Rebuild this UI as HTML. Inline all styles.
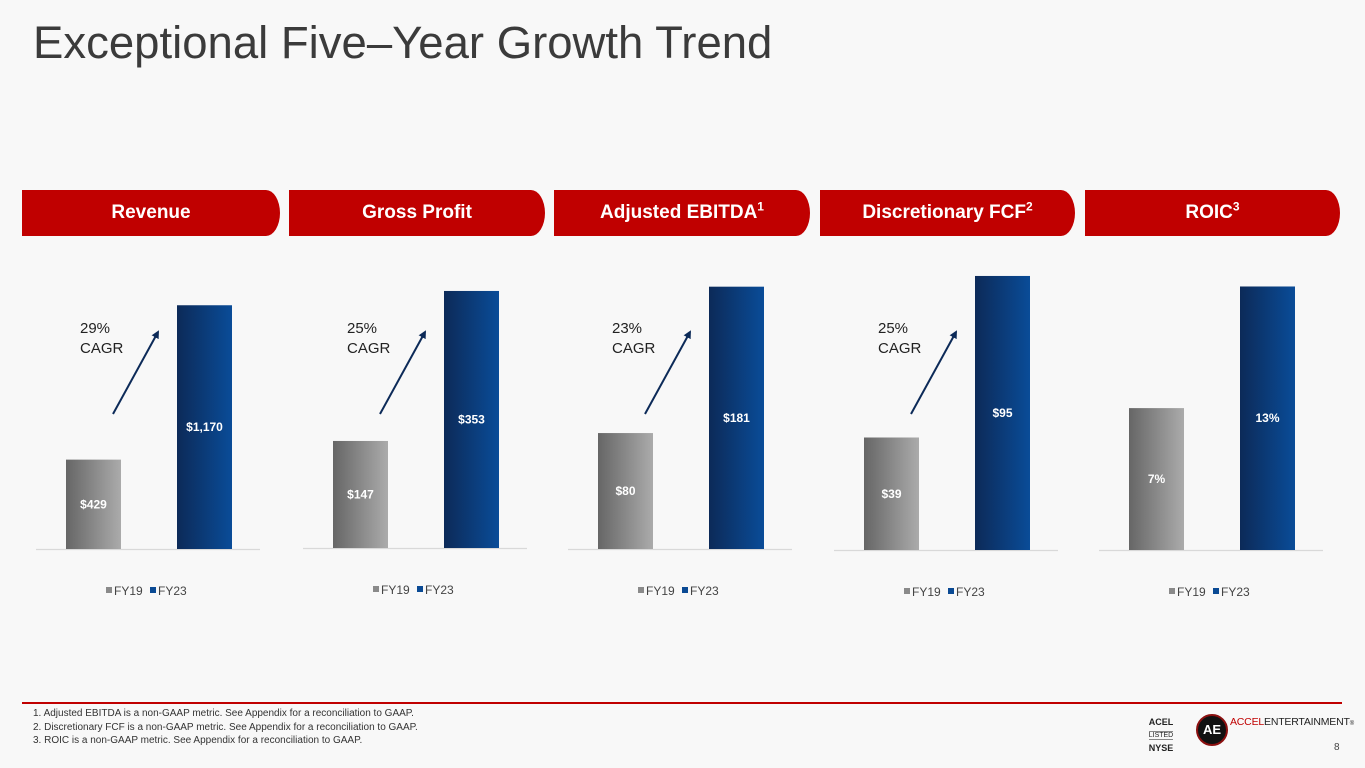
<!DOCTYPE html>
<html><head><meta charset="utf-8"><style>
html,body{margin:0;padding:0}
body{width:1365px;height:768px;position:relative;overflow:hidden;background:#f8f8f8;font-family:"Liberation Sans",Arial,sans-serif}
.title{position:absolute;left:33px;top:17px;font-size:45.5px;color:#3b3b3b;white-space:nowrap}
.hdr{position:absolute;top:190px;height:46px;background:#c00000;color:#fff;font-weight:bold;font-size:19px;line-height:46px;text-align:center;border-radius:0 14px 14px 0/0 23px 23px 0}
.hdr sup{font-size:12px;line-height:0}
.fn{position:absolute;left:33px;top:707px;font-size:10px;line-height:13.5px;color:#333}
svg{position:absolute;left:0;top:0}
</style></head><body>
<div class="title">Exceptional Five–Year Growth Trend</div>
<div class="hdr" style="left:22px;width:258px">Revenue</div>
<div class="hdr" style="left:289px;width:256px">Gross Profit</div>
<div class="hdr" style="left:554px;width:256px">Adjusted EBITDA<sup>1</sup></div>
<div class="hdr" style="left:820px;width:255px">Discretionary FCF<sup>2</sup></div>
<div class="hdr" style="left:1085px;width:255px">ROIC<sup>3</sup></div>
<svg id="chart" width="1365" height="768">
<defs>
<linearGradient id="gg" x1="0" x2="1"><stop offset="0" stop-color="#666"/><stop offset="1" stop-color="#ababab"/></linearGradient>
<linearGradient id="gb" x1="0" x2="1"><stop offset="0" stop-color="#0c2a58"/><stop offset="1" stop-color="#0a4c98"/></linearGradient>
<marker id="ah" markerWidth="8" markerHeight="8" refX="6" refY="4" orient="auto" markerUnits="userSpaceOnUse"><path d="M0,0 L8,4 L0,8 z" fill="#0c2a58"/></marker>
</defs>
</svg>
<div class="fn">1. Adjusted EBITDA is a non-GAAP metric. See Appendix for a reconciliation to GAAP.<br>2. Discretionary FCF is a non-GAAP metric. See Appendix for a reconciliation to GAAP.<br>3. ROIC is a non-GAAP metric. See Appendix for a reconciliation to GAAP.</div>
<div style="position:absolute;left:22px;top:702px;width:1320px;height:1.5px;background:#c00000"></div>
<div style="position:absolute;left:1146px;top:716px;width:30px;text-align:center;font-size:9px;line-height:12px;color:#222"><b>ACEL</b><br><span style="font-size:7px;border-top:1px solid #888;border-bottom:1px solid #888">LISTED</span><br><b>NYSE</b></div>
<div style="position:absolute;left:1196px;top:714px;width:28px;height:28px;border-radius:50%;background:#111;border:2px solid #8b1010;color:#fff;font-weight:bold;font-size:13px;line-height:28px;text-align:center">AE</div>
<div style="position:absolute;left:1230px;top:716px;font-size:10.5px;color:#222;letter-spacing:-0.2px"><span style="color:#c00000">ACCEL</span>ENTERTAINMENT<span style="font-size:6px">®</span></div>
<div style="position:absolute;left:1334px;top:742px;font-size:10px;color:#444">8</div>
<script>
const categories=["FY19","FY23"];
const panelNames=["revenue","gross-profit","adjusted-ebitda","discretionary-fcf","roic"];
const fy19Values=[429,147,80,39,7];
const fy23Values=[1170,353,181,95,13];
const valueLabels19=["$429","$147","$80","$39","7%"];
const valueLabels23=["$1,170","$353","$181","$95","13%"];
const axisMax=[1440,412,207,104,14.8];
const cagrLabels=["29%","25%","23%","25%",null];
const NS="http://www.w3.org/2000/svg";
const svg=document.getElementById('chart');
const panelX=[22,289,554,820,1085];
const baseY=[549,548,549,550,550];
const plotH=300;
function mk(tag,attrs){const e=document.createElementNS(NS,tag);for(const k in attrs)e.setAttribute(k,attrs[k]);svg.appendChild(e);return e;}
function yScale(p,v){return baseY[p]-v/axisMax[p]*plotH;}
panelNames.forEach((n,p)=>{
  const x0=panelX[p];
  const ax=mk('line',{x1:x0+14,x2:x0+238,y1:baseY[p]+0.5,y2:baseY[p]+0.5,stroke:'#d9d9d9','stroke-width':1.2});
  
  
  const vals=[fy19Values[p],fy23Values[p]],labs=[valueLabels19[p],valueLabels23[p]];
  vals.forEach((v,i)=>{
    const bx=x0+44+i*111,top=yScale(p,v);
    const r=mk('rect',{x:bx,y:top,width:55,height:baseY[p]-top,fill:i?'url(#gb)':'url(#gg)'});
    
    
    const t=mk('text',{x:bx+27.5,y:(top+baseY[p])/2+4,'text-anchor':'middle',fill:'#fff','font-size':12,'font-weight':'bold'});
    t.textContent=labs[i];
    
    
  });
  const ly=baseY[p]+46;
  let lx=x0+84;
  categories.forEach((c,i)=>{
    const s=mk('rect',{x:lx,y:ly-8,width:6,height:6,fill:i?'#0a4a94':'#8a8a8a'});
    
    
    const t=mk('text',{x:lx+8,y:ly,'font-size':12,fill:'#444'});
    t.textContent=c;
    
    
    lx+=44;
  });
  if(cagrLabels[p]){
    const t1=mk('text',{x:x0+58,y:333,'font-size':15,fill:'#222'});t1.textContent=cagrLabels[p];
    
    
    const t2=mk('text',{x:x0+58,y:353,'font-size':15,fill:'#222'});t2.textContent='CAGR';
    
    
    const a=mk('line',{x1:x0+91,y1:414,x2:x0+136,y2:332,stroke:'#0c2a58','stroke-width':2,'marker-end':'url(#ah)'});
    
    
  }
});
</script>
</body></html>
